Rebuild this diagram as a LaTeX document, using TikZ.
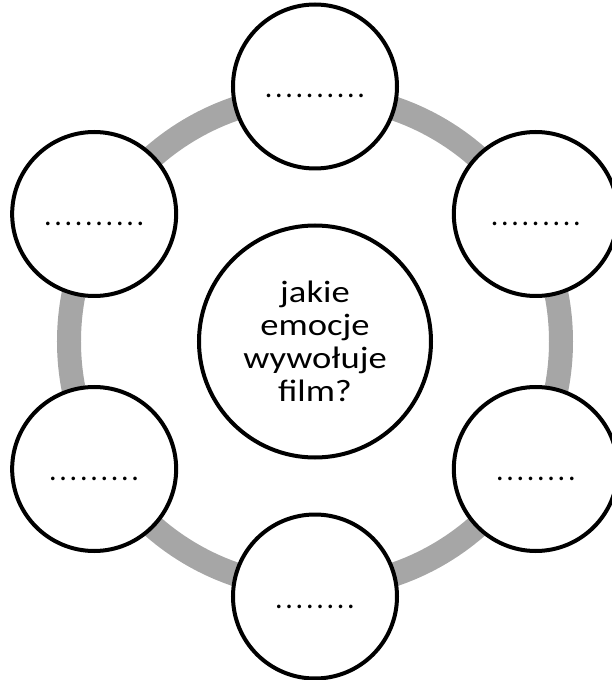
\documentclass[tikz,border=0pt]{standalone}
\usepackage{fontspec}
\setmainfont{Carlito}
\newfontfamily\szeroki[FakeStretch=1.18]{Carlito}
\usepackage{tikz}
\definecolor{szary}{RGB}{166,166,166}
\newcommand{\kropki}[1]{\foreach \i in {1,...,#1}{\makebox[10.3pt]{.}}}
\tikzset{
  kolo/.style={circle, draw=black, line width=4pt, fill=white, minimum size=164pt, inner sep=0pt, text height=23pt, text depth=0pt, font=\fontsize{30}{34}\selectfont},
  srodek/.style={circle, draw=black, line width=4pt, fill=white, minimum size=232pt, inner sep=0pt, align=center, font=\szeroki\fontsize{31}{33.2}\selectfont},
  pierscien/.style={draw=szary, line width=24pt}
}

\begin{document}
\begin{tikzpicture}[x=1pt,y=1pt]
\useasboundingbox (-315,-338.5) rectangle (296,341.5);
\draw[pierscien] (0,0) circle (246);
\node[srodek] (pytanie) at (0,0) {jakie\\emocje\\wywołuje\\film?};
\node[kolo] (e1) at (90:255) {\kropki{10}};
\node[kolo] (e2) at (30:255) {\kropki{9}};
\node[kolo] (e3) at (-30:255) {\kropki{8}};
\node[kolo] (e4) at (-90:255) {\kropki{8}};
\node[kolo] (e5) at (210:255) {\kropki{9}};
\node[kolo] (e6) at (150:255) {\kropki{10}};
\end{tikzpicture}
\end{document}
